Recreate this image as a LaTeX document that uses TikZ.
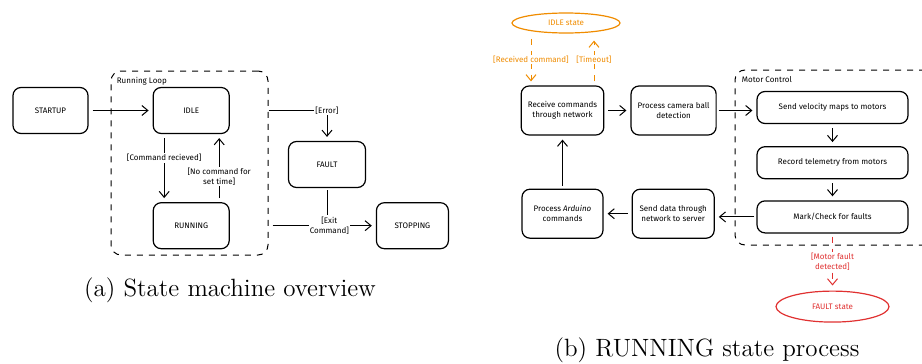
\documentclass[tikz,border=0pt]{standalone}
\usepackage{fontspec}
\newfontfamily\sketchfont{Fira Sans}
\usetikzlibrary{shapes,arrows.meta,positioning}
\definecolor{idleorange}{HTML}{F08C00}
\definecolor{faultred}{HTML}{E03131}

\begin{document}
\begin{tikzpicture}[
    x=0.5pt, y=-0.5pt,
    node distance=13pt,
    font=\sketchfont\fontsize{4}{5}\selectfont,
    box/.style={rectangle, rounded corners=4pt, draw, line width=0.6pt, minimum width=38pt, minimum height=23pt, align=center},
    stepbox/.style={box, minimum width=75.5pt, minimum height=16pt},
    frame/.style={rectangle, rounded corners=5pt, draw, dashed, line width=0.5pt},
    arrow/.style={-{Straight Barb[length=3pt,width=5pt]}, line width=0.5pt, shorten <=2pt, shorten >=2pt},
    dasharrow/.style={arrow, dashed},
    lbl/.style={fill=white, inner sep=0.5pt, align=center},
    caption/.style={font=\rmfamily\fontsize{12.5}{15}\selectfont}
]
\clip (0,0) rectangle (922,364);

% (a) State machine overview
\node[box, minimum width=37.5pt] (startup) at (50.5,110.5) {STARTUP};
\node[box, right=32pt of startup] (idle) {IDLE};
\node[box, below=34pt of idle] (running) {RUNNING};
\node[box, minimum width=38.5pt] (fault) at (327,164.5) {FAULT};
\node[box, minimum width=36pt, right=73pt of running] (stopping) {STOPPING};

% Running loop frame
\node[frame, minimum width=78.5pt, minimum height=92pt] (loop) at (189.5,163) {};
\node[anchor=north west, inner sep=1pt] (looplbl) at ([xshift=2pt, yshift=-2pt]loop.north west) {Running Loop};

\draw[arrow] (startup) -- (idle);
\draw[arrow] ([xshift=-13.5pt]idle.south) -- node[lbl, pos=0.35] {[Command recieved]} ([xshift=-13.5pt]running.north);
\draw[arrow] ([xshift=14pt]running.north) -- node[lbl, pos=0.38] {[No command for\\set time]} ([xshift=14pt]idle.south);
\draw[arrow, shorten <=0pt] (loop.east |- idle.east) -| node[lbl, pos=0.5] {[Error]} (fault.north);
\draw[arrow, shorten <=0pt] ([xshift=2pt]loop.east |- running.east) -- node[lbl, pos=0.55] (exitlbl) {[Exit\\Command]} (stopping);
\draw[line width=0.5pt, shorten <=1pt] (fault.south) -- (exitlbl.north -| fault.south);

\node[caption] (capa) at (230,290) {(a) State machine overview};

% (b) RUNNING state process
\node[box, minimum width=40.5pt, minimum height=24.5pt] (receive) at (562.5,110.5) {Receive commands\\through network};
\node[box, minimum width=40.5pt, minimum height=24.5pt, right=13pt of receive] (camera) {Process camera ball\\detection};
\node[box, minimum width=40.5pt, minimum height=24.5pt, below=26.5pt of receive] (arduino) {Process \textit{Arduino}\\commands};
\node[box, minimum width=41pt, minimum height=24.5pt, right=14pt of arduino] (senddata) {Send data through\\network to server};

\node[draw=idleorange, text=idleorange, ellipse, line width=0.6pt, minimum width=54pt, minimum height=10pt, inner sep=0pt] (idlestate) at (566,23) {IDLE state};

% Motor control frame
\node[frame, minimum width=100pt, minimum height=87.5pt] (motor) at (835,157.5) {};
\node[anchor=north west, inner sep=1pt] (motorlbl) at ([xshift=2.5pt, yshift=-2.5pt]motor.north west) {Motor Control};
\node[stepbox] (velocity) at (832.5,107.5) {Send velocity maps to motors};
\node[stepbox, below=11pt of velocity] (telemetry) {Record telemetry from motors};
\node[stepbox, below=10.5pt of telemetry] (mark) {Mark/Check for faults};

\node[draw=faultred, text=faultred, ellipse, line width=0.6pt, minimum width=56.5pt, minimum height=15.5pt, inner sep=0pt, below=28.5pt of mark] (faultstate) {FAULT state};

\draw[arrow] (receive) -- (camera);
\draw[arrow, shorten <=1pt] (camera.east) -- (camera.east -| velocity.west);
\draw[arrow] (velocity) -- (telemetry);
\draw[arrow] (telemetry) -- (mark);
\draw[arrow, shorten <=1pt] (mark.west) -- (mark.west -| senddata.east);
\draw[arrow] (senddata) -- (arduino);
\draw[arrow, shorten <=1.5pt] (arduino) -- (receive);

\draw[dasharrow, idleorange, shorten <=2.5pt] ([xshift=-15.75pt]receive.north |- idlestate.south) -- node[lbl] {[Received command]} ([xshift=-15.75pt]receive.north);
\draw[dasharrow, idleorange, shorten >=3.5pt] ([xshift=15.75pt]receive.north) -- node[lbl] {[Timeout]} ([xshift=15.75pt]receive.north |- idlestate.south);
\draw[dasharrow, faultred, shorten <=1.5pt, shorten >=2.5pt] (mark.south) -- node[lbl, pos=0.5] {[Motor fault\\detected]} (faultstate.north);

\node[caption] (capb) at (707,350) {(b) RUNNING state process};

\end{tikzpicture}
\end{document}
